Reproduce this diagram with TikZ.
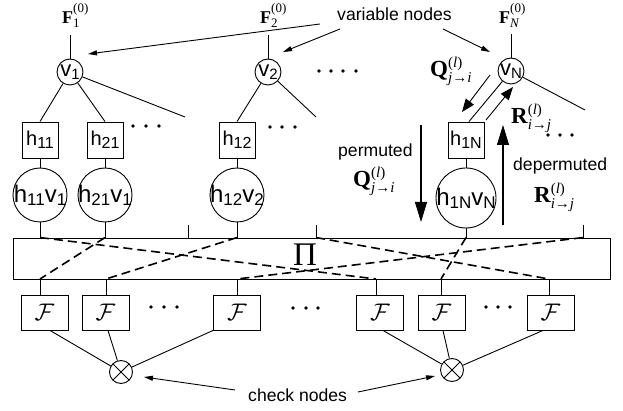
\RequirePackage{fix-cm}
\documentclass[tikz,border=0pt]{standalone}
\usepackage{fontspec}
\setmainfont{Liberation Sans}
\newfontfamily\serif{Liberation Serif}
\usetikzlibrary{arrows.meta}

% lowered subscripts for the sans labels
\newcommand{\bsb}[1]{\raisebox{-3pt}{\fontsize{16}{16}\selectfont #1}}
\newcommand{\csb}[1]{\raisebox{-3pt}{\fontsize{17}{17}\selectfont #1}}
\newcommand{\vsb}[1]{\raisebox{-3pt}{\fontsize{15}{15}\selectfont #1}}

% bold serif symbol with stacked super/subscript
% #1 size, #2 script size, #3 letter, #4 sup, #5 sub, #6 raise, #7 lower
\newcommand{\lab}[7]{%
  {\serif\fontsize{#1}{#1}\selectfont\bfseries #3}%
  \setbox0=\hbox{\serif\fontsize{#2}{#2}\selectfont\raise#6\hbox{#4}}%
  \setbox2=\hbox{\serif\fontsize{#2}{#2}\selectfont\lower#7\hbox{#5}}%
  \ifdim\wd0>\wd2 \dimen0=\wd0 \else \dimen0=\wd2 \fi
  \hbox to \dimen0{\rlap{\box0}\box2\hss}}
\newcommand{\itx}[1]{\textit{#1}}

\begin{document}
\begin{tikzpicture}[x=1pt,y=-1pt,
  every node/.style={inner sep=0pt},
  zw/.style={execute at begin node={\hbox to 0pt\bgroup\hss},
             execute at end node={\hss\egroup}},
  ln/.style={line width=0.9pt},
  vnode/.style={circle, draw, ln, minimum size=26pt,
                font=\fontsize{22}{22}\selectfont, zw},
  hbox/.style={rectangle, draw, ln, minimum width=36pt, minimum height=36pt,
               font=\fontsize{20}{20}\selectfont, zw},
  hv/.style={circle, draw, ln, minimum size=54pt,
             font=\fontsize{24}{24}\selectfont, zw},
  fbox/.style={rectangle, draw, ln, minimum width=47pt, minimum height=35pt,
               font=\fontsize{24}{24}\selectfont},
  chk/.style={circle, draw, ln, minimum size=23pt,
    path picture={\draw[ln]
      (path picture bounding box.north west) -- (path picture bounding box.south east)
      (path picture bounding box.north east) -- (path picture bounding box.south west);}},
  perm/.style={line width=1.6pt, dash pattern=on 9pt off 5pt},
  dotn/.style={circle, fill, minimum size=3.8pt},
  note/.style={font=\fontsize{17.6}{20}\selectfont, anchor=base west},
  sym/.style={anchor=base west},
  ptr/.style={ln, -{Triangle[length=9pt,width=5pt]}},
  msg/.style={ln, -{Triangle[length=13pt,width=10pt]}},
  flow/.style={line width=1.1pt, -{Triangle[length=20pt,width=12pt]}}
]
\useasboundingbox (0,0) rectangle (623,411);

% ---- variable nodes and their priors
\node[vnode] (v1) at (70,72) {v\vsb{1}};
\node[vnode] (v2) at (268,72) {v\vsb{2}};
\node[vnode] (vN) at (511,71) {v\vsb{N}};

\node[sym] (p1) at (62,24) {\lab{18}{13}{F}{(0)}{1}{11pt}{4pt}};
\node[sym] (p2) at (260,24) {\lab{18}{13}{F}{(0)}{2}{11pt}{4pt}};
\node[sym] (pN) at (499,24) {\lab{18}{13}{F}{(0)}{\itx{N}}{11pt}{4pt}};
\draw[ln] (v1.north) -- ++(0,-24);
\draw[ln] (v2.north) -- ++(0,-24);
\draw[ln] (vN.north) -- ++(0,-24);

% ---- channel coefficient boxes
\node[hbox] (hb11) at (40,140) {h\bsb{11}};
\node[hbox] (hb21) at (105,140) {h\bsb{21}};
\node[hbox] (hb12) at (237,140) {h\bsb{12}};
\node[hbox] (hb1N) at (466,140) {h\bsb{1N}};

% ---- product nodes
\node[hv] (c11) at (40,195) {h\csb{11}v\csb{1}};
\node[hv] (c21) at (105,195) {h\csb{21}v\csb{1}};
\node[hv] (c12) at (237,195) {h\csb{12}v\csb{2}};
\node[hv, minimum size=60pt] (c1N) at (466,198) {h\csb{1N}v\csb{N}};

% ---- edges from the variable nodes
\coordinate (e1) at (185,117);
\coordinate (e2) at (316,117);
\coordinate (e3) at (585,110);
\draw[ln] (v1) -- (hb11.north);
\draw[ln] (v1) -- (hb21.north);
\draw[ln] (v1) -- (e1);
\draw[ln] (v2) -- (hb12.north);
\draw[ln] (v2) -- (e2);
\draw[ln] (vN) -- (e3);
\draw[ln] ([xshift=3pt]hb1N.north) -- (vN);

\foreach \b/\c in {hb11/c11, hb21/c21, hb12/c12, hb1N/c1N}
  \draw[ln] (\b) -- (\c);

% ---- messages along the edge to v_N
\coordinate (qs) at (490,75);
\coordinate (qe) at (462,112);
\coordinate (rs) at (486,120);
\coordinate (re) at (513,87);
\draw[msg] (qs) -- (qe);
\draw[msg] (rs) -- (re);
\node[sym] (qlab) at (430,77) {\lab{23}{15}{Q}{(\itx{l})}{\itx{j}→\itx{i}}{9pt}{6pt}};
\node[sym] (rlab) at (511,124) {\lab{23}{15}{R}{(\itx{l})}{\itx{i}→\itx{j}}{9pt}{6pt}};

% ---- interleaver
\node[draw, ln, minimum width=597pt, minimum height=41pt] (pi) at (311.5,258.5) {};
\node[font=\serif\fontsize{33}{33}\selectfont] (pil) at (305,255) {Π};

\foreach \c in {c11, c21, c12, c1N}
  \draw[ln] (\c.south) -- (\c.south |- pi.north);
\coordinate (t1) at (188,225);
\coordinate (t2) at (316,225);
\coordinate (t3) at (583,225);
\foreach \t in {t1, t2, t3}
  \draw[ln] (\t) -- (\t |- pi.north);

% ---- check-side function nodes
\node[fbox] (F1) at (44.5,312.5) {$\mathcal{F}$};
\node[fbox] (F2) at (105.5,312.5) {$\mathcal{F}$};
\node[fbox] (F3) at (237,312.5) {$\mathcal{F}$};
\node[fbox] (F4) at (380,312.5) {$\mathcal{F}$};
\node[fbox] (F5) at (441.5,312.5) {$\mathcal{F}$};
\node[fbox] (F6) at (550.5,312.5) {$\mathcal{F}$};

\coordinate (b1) at (40,279);
\coordinate (b2) at (106,279);
\coordinate (b3) at (237,279);
\coordinate (b4) at (376,279);
\coordinate (b5) at (441,279);
\coordinate (b6) at (549,279);
\foreach \b/\f in {b1/F1, b2/F2, b3/F3, b4/F4, b5/F5, b6/F6}
  \draw[ln] (\b) -- (\b |- \f.north);

% ---- permutation inside the interleaver
\draw[perm] (c11.south |- pi.north) -- (b4);
\draw[perm] (c21.south |- pi.north) -- (b1);
\draw[perm] (c12.south |- pi.north) -- (b2);
\draw[perm] (t2 |- pi.north) -- (b6);
\draw[perm] (c1N.south |- pi.north) -- (b5);
\draw[perm] (t3 |- pi.north) -- (b3);

% ---- check nodes
\node[chk] (k1) at (121,372) {};
\node[chk] (k2) at (452,370) {};
\draw[ln] ([xshift=5.5pt]F1.south) -- (k1);
\draw[ln] ([xshift=2.5pt]F2.south) -- (k1);
\draw[ln] (F3.south west) -- (k1);
\draw[ln] ([xshift=3pt]F4.south) -- (k2);
\draw[ln] ([xshift=1.5pt]F5.south) -- (k2);
\draw[ln] ([xshift=-7.5pt]F6.south) -- (k2);

% ---- flow direction arrows
\coordinate (dn1) at (421,125);
\coordinate (dn2) at (421,222);
\coordinate (up1) at (503,225);
\coordinate (up2) at (503,125);
\draw[flow] (dn1) -- (dn2);
\draw[flow] (up1) -- (up2);
\node[note] (perml) at (338,157) {permuted};
\node[sym] (qmid) at (353,187) {\lab{23}{15}{Q}{(\itx{l})}{\itx{j}→\itx{i}}{9pt}{6pt}};
\node[note] (dperml) at (513,171) {depermuted};
\node[sym] (rmid) at (534,203) {\lab{23}{15}{R}{(\itx{l})}{\itx{i}→\itx{j}}{9pt}{6pt}};

% ---- annotations
\node[note] (varl) at (337,21) {variable nodes};
\coordinate (a1s) at (320,24);  \coordinate (a1e) at (88,54);
\coordinate (a2s) at (340,29);  \coordinate (a2e) at (283,52);
\coordinate (a3s) at (443,29);  \coordinate (a3e) at (490,52);
\draw[ptr] (a1s) -- (a1e);
\draw[ptr] (a2s) -- (a2e);
\draw[ptr] (a3s) -- (a3e);

\node[note] (chkl) at (248,401) {check nodes};
\coordinate (k1s) at (235,390); \coordinate (k1e) at (144,377);
\coordinate (k2s) at (358,392); \coordinate (k2e) at (435,376);
\draw[ptr] (k1s) -- (k1e);
\draw[ptr] (k2s) -- (k2e);

% ---- ellipsis dots
\foreach \x/\y in {133/126, 146/126, 159/126,
                   270/127, 282/127, 295/127,
                   319/71, 331/71, 343/71, 356/71,
                   548/135, 560/135, 572/135,
                   151/307, 164/307, 177/307,
                   293/308, 306/308, 318/308,
                   486/307, 498/307, 510/307}
  \node[dotn] at (\x,\y) {};
\end{tikzpicture}
\end{document}
